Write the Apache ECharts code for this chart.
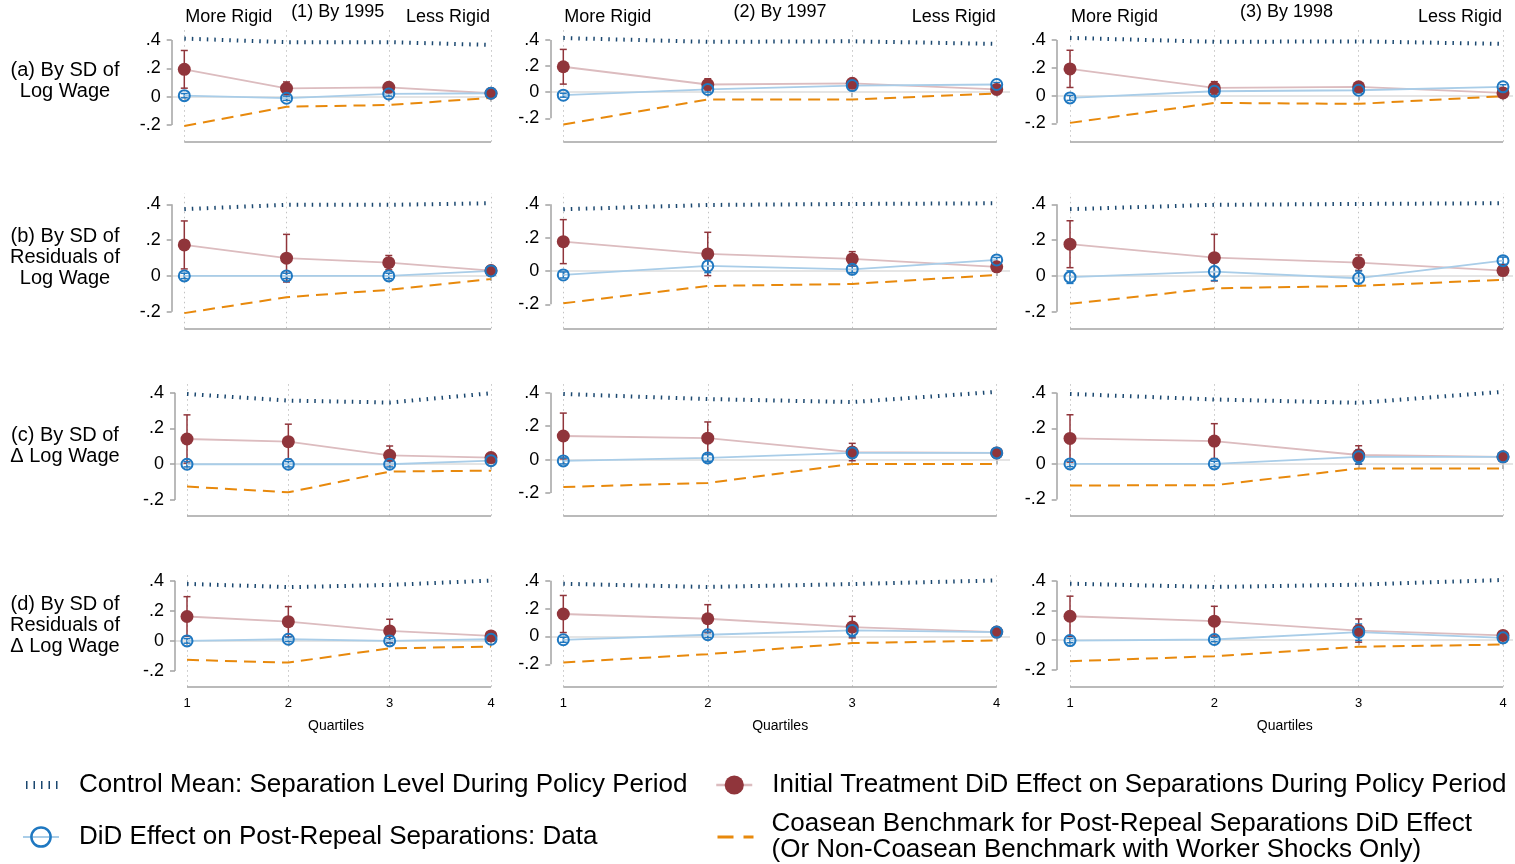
<!DOCTYPE html>
<html>
<head>
<meta charset="utf-8">
<script src="https://cdn.jsdelivr.net/npm/echarts@6/dist/echarts.min.js"></script>
<style>
  html, body { margin: 0; padding: 0; background: #fff; }
  #main { width: 1515px; height: 864px; }
</style>
</head>
<body>
<div id="main"></div>
<script>
var FONT = '"Liberation Sans", Arial, Helvetica, sans-serif';

// x categories and axis ticks
var quartiles = [1, 2, 3, 4];
var yTicks = [-0.2, 0, 0.2, 0.4];

var colTitles = ["(1) By 1995", "(2) By 1997", "(3) By 1998"];
var rigidLabels = ["More Rigid", "Less Rigid"];
var rowLabels = [
  "(a) By SD of\nLog Wage",
  "(b) By SD of\nResiduals of\nLog Wage",
  "(c) By SD of\nΔ Log Wage",
  "(d) By SD of\nResiduals of\nΔ Log Wage"
];
var seriesNames = [
  "Control Mean: Separation Level During Policy Period",
  "DiD Effect on Post-Repeal Separations: Data",
  "Initial Treatment DiD Effect on Separations During Policy Period",
  "Coasean Benchmark for Post-Repeal Separations DiD Effect (Or Non-Coasean Benchmark with Worker Shocks Only)"
];

// one row per panel: a1, a2, a3, b1, ... d3 ; one value per quartile
var controlMean = [
  [0.410, 0.385, 0.385, 0.365],
  [0.415, 0.386, 0.390, 0.370],
  [0.415, 0.387, 0.390, 0.372],
  [0.373, 0.397, 0.397, 0.406],
  [0.370, 0.396, 0.402, 0.406],
  [0.373, 0.397, 0.402, 0.406],
  [0.393, 0.356, 0.345, 0.397],
  [0.392, 0.362, 0.344, 0.405],
  [0.393, 0.362, 0.343, 0.405],
  [0.379, 0.357, 0.372, 0.401],
  [0.378, 0.355, 0.376, 0.402],
  [0.380, 0.358, 0.373, 0.405]
];
var initialEffect = [
  [0.193, 0.059, 0.066, 0.024],
  [0.195, 0.059, 0.068, 0.021],
  [0.192, 0.055, 0.063, 0.019],
  [0.173, 0.099, 0.074, 0.030],
  [0.176, 0.102, 0.072, 0.025],
  [0.177, 0.102, 0.074, 0.030],
  [0.141, 0.126, 0.050, 0.037],
  [0.141, 0.128, 0.045, 0.040],
  [0.143, 0.128, 0.050, 0.040],
  [0.162, 0.128, 0.066, 0.033],
  [0.161, 0.127, 0.067, 0.031],
  [0.161, 0.128, 0.065, 0.032]
];
// half width of the confidence interval
var initialCI = [
  [0.133, 0.045, 0.025, 0.012],
  [0.133, 0.044, 0.025, 0.012],
  [0.134, 0.045, 0.025, 0.012],
  [0.134, 0.133, 0.040, 0.020],
  [0.132, 0.130, 0.044, 0.020],
  [0.131, 0.130, 0.043, 0.020],
  [0.135, 0.098, 0.052, 0.015],
  [0.137, 0.097, 0.052, 0.015],
  [0.133, 0.098, 0.052, 0.015],
  [0.132, 0.100, 0.078, 0.015],
  [0.133, 0.101, 0.077, 0.015],
  [0.135, 0.100, 0.078, 0.015]
];
var didEffect = [
  [0.007, -0.011, 0.019, 0.024],
  [-0.023, 0.021, 0.051, 0.059],
  [-0.017, 0.031, 0.038, 0.063],
  [0.000, 0.000, 0.000, 0.028],
  [-0.024, 0.030, 0.010, 0.066],
  [-0.007, 0.024, -0.013, 0.085],
  [0.000, 0.000, 0.000, 0.020],
  [-0.008, 0.010, 0.040, 0.040],
  [0.000, 0.000, 0.040, 0.040],
  [0.000, 0.011, 0.000, 0.011],
  [-0.024, 0.012, 0.043, 0.031],
  [-0.002, 0.005, 0.054, 0.016]
];
var didCI = [
  [0.015, 0.015, 0.015, 0.012],
  [0.015, 0.020, 0.020, 0.015],
  [0.018, 0.035, 0.020, 0.015],
  [0.015, 0.015, 0.015, 0.012],
  [0.018, 0.040, 0.020, 0.015],
  [0.035, 0.050, 0.040, 0.020],
  [0.015, 0.015, 0.015, 0.012],
  [0.018, 0.020, 0.025, 0.015],
  [0.015, 0.015, 0.040, 0.015],
  [0.015, 0.015, 0.015, 0.012],
  [0.018, 0.020, 0.045, 0.015],
  [0.015, 0.015, 0.055, 0.015]
];
var coasean = [
  [-0.207, -0.071, -0.059, -0.008],
  [-0.248, -0.056, -0.056, -0.010],
  [-0.197, -0.053, -0.060, -0.005],
  [-0.208, -0.119, -0.078, -0.018],
  [-0.194, -0.090, -0.078, -0.024],
  [-0.156, -0.069, -0.056, -0.022],
  [-0.125, -0.157, -0.041, -0.036],
  [-0.164, -0.140, -0.026, -0.026],
  [-0.121, -0.120, -0.026, -0.026],
  [-0.126, -0.144, -0.049, -0.038],
  [-0.187, -0.127, -0.048, -0.029],
  [-0.141, -0.107, -0.044, -0.029]
];

// panel layout in px: [yAxisX, x@1, x@4, rightX, topY, y@.4, y@-.2, xAxisY]
var panelBox = [
  [171.7, 184.3, 491, 497, 28, 40, 125, 141.7],
  [550.3, 563.3, 996.7, 1010, 28, 40, 118.3, 141.7],
  [1056.7, 1070, 1503, 1513, 28, 40, 123.3, 141.7],
  [171.7, 184.3, 491, 497, 193, 204.3, 311.7, 328.3],
  [550.3, 563.3, 996.7, 1010, 193, 204.3, 304.3, 328.3],
  [1056.7, 1070, 1503, 1513, 193, 204.3, 311.7, 328.3],
  [175, 187, 491, 497, 381.7, 392.7, 500, 515.7],
  [550.3, 563.3, 996.7, 1010, 381.7, 392.7, 493, 515.7],
  [1056.7, 1070, 1503, 1513, 381.7, 392.7, 499.5, 515.7],
  [175, 187, 491, 497, 573.3, 580.7, 671, 686.7],
  [550.3, 563.3, 996.7, 1010, 573.3, 580.7, 664.3, 686.7],
  [1056.7, 1070, 1503, 1513, 573.3, 580.7, 670, 686.7]
];
var rowLabelTop = [59.5, 225.5, 424.5, 593.5];

var NAVY = "#1a476f";
var MAROON = "#90353b";
var MAROON_LIGHT = "#dcbcbf";
var BLUE = "#1f78c1";
var BLUE_LIGHT = "#a9cde8";
var ORANGE = "#e8890c";
var AXIS = "#a3a3a3";

function fmtTick(v) {
  if (v === 0) return "0";
  return (v < 0 ? "-" : "") + String(Math.abs(v)).replace(/^0/, "");
}

function errorBars(color) {
  return function (params, api) {
    var top = api.coord([api.value(0), api.value(2)]);
    var bot = api.coord([api.value(0), api.value(1)]);
    var cap = 3.5;
    var st = { stroke: color, lineWidth: 1.5 };
    return {
      type: "group",
      children: [
        { type: "line", shape: { x1: top[0], y1: top[1], x2: bot[0], y2: bot[1] }, style: st },
        { type: "line", shape: { x1: top[0] - cap, y1: top[1], x2: top[0] + cap, y2: top[1] }, style: st },
        { type: "line", shape: { x1: bot[0] - cap, y1: bot[1], x2: bot[0] + cap, y2: bot[1] }, style: st }
      ]
    };
  };
}

function pairs(vals) {
  return quartiles.map(function (q, i) { return [q, vals[i]]; });
}
function bars(vals, ci) {
  return quartiles.map(function (q, i) { return [q, vals[i] - ci[i], vals[i] + ci[i]]; });
}

var grids = [], xAxes = [], yAxes = [], series = [], titles = [];

panelBox.forEach(function (b, p) {
  var row = Math.floor(p / 3);
  var sx = (b[2] - b[1]) / 3, sy = (b[6] - b[5]) / 0.6;
  var xmin = 1 - (b[1] - b[0]) / sx, xmax = 4 + (b[3] - b[2]) / sx;
  var ymax = 0.4 + (b[5] - b[4]) / sy, ymin = -0.2 - (b[7] - b[6]) / sy;
  var bottomRow = row === 3;

  grids.push({ left: b[0], top: b[4], width: b[3] - b[0], height: b[7] - b[4], outerBoundsMode: "none" });
  xAxes.push({
    gridIndex: p, type: "value", min: xmin, max: xmax,
    axisLine: { show: false }, splitLine: { show: false },
    axisTick: { show: true, customValues: quartiles, length: 5, lineStyle: { color: AXIS, width: 1.5 } },
    axisLabel: { show: bottomRow, customValues: quartiles, margin: 10, fontSize: 13, color: "#000", fontFamily: FONT },
    name: bottomRow ? "Quartiles" : "", nameLocation: "middle", nameGap: 32,
    nameTextStyle: { fontSize: 14, color: "#000", fontFamily: FONT }
  });
  yAxes.push({
    gridIndex: p, type: "value", min: ymin, max: ymax,
    axisLine: { show: false }, splitLine: { show: false },
    axisTick: { show: true, customValues: yTicks, length: 5, lineStyle: { color: AXIS, width: 1.5 } },
    axisLabel: { customValues: yTicks, formatter: fmtTick, margin: 11, fontSize: 18, color: "#000", fontFamily: FONT }
  });

  // frame: zero line, quartile grid lines, axis lines
  var frame = [{ yAxis: 0, lineStyle: { color: "#dcdcdc", width: 1.5, type: "solid" } }];
  quartiles.forEach(function (q) {
    frame.push({ xAxis: q, lineStyle: { color: "#c2c2c2", width: 1, type: [1.5, 3.5] } });
  });
  frame.push([{ coord: [xmin, 0.4], lineStyle: { color: AXIS, width: 1.5, type: "solid" } }, { coord: [xmin, -0.2] }]);
  frame.push([{ coord: [1, ymin], lineStyle: { color: AXIS, width: 1.5, type: "solid" } }, { coord: [4, ymin] }]);
  series.push({
    type: "line", name: "frame" + p, xAxisIndex: p, yAxisIndex: p, data: [], z: 1, silent: true,
    markLine: { silent: true, symbol: "none", z: 1, animation: false, label: { show: false }, data: frame }
  });

  series.push({
    type: "line", name: seriesNames[0], xAxisIndex: p, yAxisIndex: p, z: 2,
    data: pairs(controlMean[p]), symbol: "none", itemStyle: { color: NAVY },
    lineStyle: { color: NAVY, width: 4, type: [1.5, 6], cap: "butt" }
  });
  series.push({
    type: "custom", name: "initialCI" + p, xAxisIndex: p, yAxisIndex: p, z: 2,
    data: bars(initialEffect[p], initialCI[p]), encode: { x: 0, y: [1, 2] },
    renderItem: errorBars(MAROON)
  });
  series.push({
    type: "line", name: seriesNames[2], xAxisIndex: p, yAxisIndex: p, z: 2,
    data: pairs(initialEffect[p]), symbol: "circle", symbolSize: 13,
    lineStyle: { color: MAROON_LIGHT, width: 1.8 },
    itemStyle: { color: MAROON }
  });
  series.push({
    type: "custom", name: "didCI" + p, xAxisIndex: p, yAxisIndex: p, z: 2,
    data: bars(didEffect[p], didCI[p]), encode: { x: 0, y: [1, 2] },
    renderItem: errorBars(BLUE)
  });
  series.push({
    type: "line", name: seriesNames[1], xAxisIndex: p, yAxisIndex: p, z: 2,
    data: pairs(didEffect[p]), symbol: "circle", symbolSize: 11,
    lineStyle: { color: BLUE_LIGHT, width: 1.8 },
    itemStyle: { color: "transparent", borderColor: BLUE, borderWidth: 2 }
  });
  series.push({
    type: "line", name: seriesNames[3], xAxisIndex: p, yAxisIndex: p, z: 2,
    data: pairs(coasean[p]), symbol: "none", itemStyle: { color: ORANGE },
    lineStyle: { color: ORANGE, width: 2, type: [12, 7] }
  });
});

// column headings
colTitles.forEach(function (t, c) {
  var b = panelBox[c];
  titles.push({ text: t, left: (b[1] + b[2]) / 2, top: 3, padding: 0, textAlign: "center",
    textStyle: { fontSize: 18, fontWeight: "normal", color: "#000", fontFamily: FONT } });
  titles.push({ text: rigidLabels[0], left: b[1] + 1, top: 8, padding: 0, textAlign: "left",
    textStyle: { fontSize: 18, fontWeight: "normal", color: "#000", fontFamily: FONT } });
  titles.push({ text: rigidLabels[1], left: b[2] - 1, top: 8, padding: 0, textAlign: "right",
    textStyle: { fontSize: 18, fontWeight: "normal", color: "#000", fontFamily: FONT } });
});
// row labels
rowLabels.forEach(function (t, r) {
  titles.push({ text: t, left: 65, top: rowLabelTop[r], padding: 0, textAlign: "center",
    textStyle: { fontSize: 20, lineHeight: 21, fontWeight: "normal", color: "#000", fontFamily: FONT } });
});

function legendItem(name, left, top, itemWidth, pad, extra) {
  var lg = {
    data: [name], left: left, top: top, padding: 0, orient: "horizontal",
    itemWidth: itemWidth, itemHeight: 24, selectedMode: false,
    textStyle: { fontSize: 26, lineHeight: 26, color: "#000", fontFamily: FONT, padding: [0, 0, 0, pad] }
  };
  for (var k in extra) lg[k] = extra[k];
  return lg;
}

var noSymbol = { color: "transparent", borderColor: "transparent", borderWidth: 0 };
var legends = [
  legendItem(seriesNames[0], 22, 772, 34, 14, { lineStyle: { width: 8 }, itemStyle: noSymbol }),
  legendItem(seriesNames[1], 22, 824, 36, 15, { itemStyle: { borderWidth: 2.5 }, lineStyle: { width: 2 } }),
  legendItem(seriesNames[2], 715, 772, 36, 15, { lineStyle: { width: 2.5 } }),
  legendItem(seriesNames[3], 716, 811, 36, 13, {
    lineStyle: { width: 3, type: [16, 10] }, itemStyle: noSymbol,
    formatter: function (n) { return n.replace(" (Or", "\n(Or"); }
  })
];

var myChart = echarts.init(document.getElementById("main"));
myChart.setOption({
  animation: false,
  backgroundColor: "#fff",
  title: titles,
  legend: legends,
  grid: grids,
  xAxis: xAxes,
  yAxis: yAxes,
  series: series
});
</script>
</body>
</html>
